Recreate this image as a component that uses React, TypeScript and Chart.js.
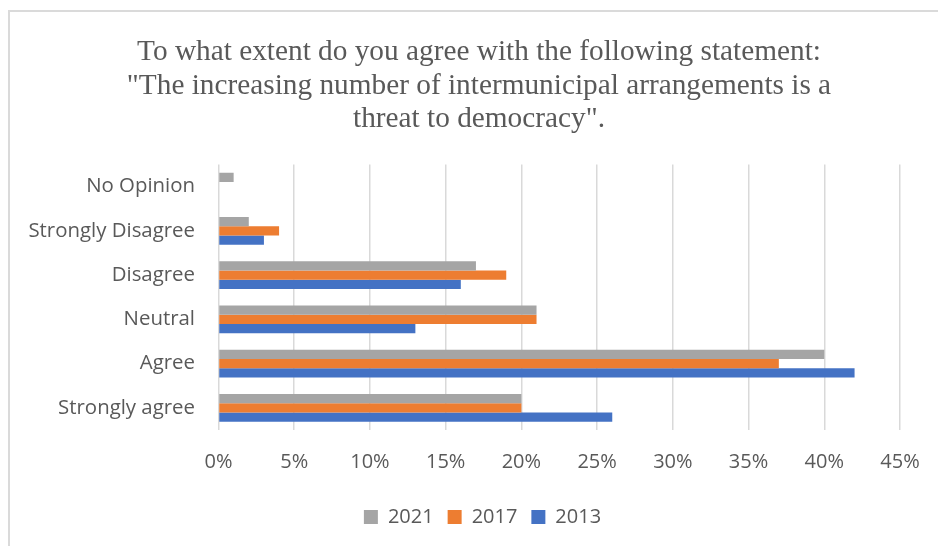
import React, { useEffect, useRef } from 'react';
import { Chart, registerables } from 'chart.js';

Chart.register(...registerables);

const categories = ['No Opinion', 'Strongly Disagree', 'Disagree', 'Neutral', 'Agree', 'Strongly agree'];
const seriesLabels = ['2021', '2017', '2013'];
const values2021 = [1, 2, 17, 21, 40, 20];
const values2017 = [0, 4, 19, 21, 37, 20];
const values2013 = [0, 3, 16, 13, 42, 26];
const seriesColors = ['#A5A5A5', '#ED7D31', '#4472C4'];
const xMin = 0;
const xMax = 45;
const xStep = 5;
const titleLines = [
  'To what extent do you agree with the following statement:',
  '"The increasing number of intermunicipal arrangements is a',
  'threat to democracy".',
];

const TEXT = '#595959';
const LABEL_FONT = { family: "'Open Sans', sans-serif", size: 20 };
const Y_LABEL_FONT = { family: "'Open Sans', sans-serif", size: 20.4 };

const shiftBlocks = {
  id: 'shiftBlocks',
  afterLayout(chart: any) {
    if (chart.titleBlock) {
      chart.titleBlock.left = 58;
      chart.titleBlock.right = 900;
    }
    if (chart.legend) {
      chart.legend.left = 65;
      chart.legend.right = 900;
    }
  },
};

export default function App() {
  const ref = useRef<HTMLCanvasElement | null>(null);

  useEffect(() => {
    if (!ref.current) return;
    const data = [values2021, values2017, values2013];
    const chart = new Chart(ref.current, {
      type: 'bar',
      data: {
        labels: categories,
        datasets: seriesLabels.map((l, i) => ({
          label: l,
          data: data[i],
          backgroundColor: seriesColors[i],
          borderWidth: 0,
          categoryPercentage: 0.63,
          barPercentage: 1,
        })),
      },
      options: {
        indexAxis: 'y',
        responsive: false,
        animation: false,
        layout: { padding: { left: 0, right: 45, top: 0, bottom: 9 } },
        plugins: {
          title: {
            display: true,
            text: titleLines,
            color: TEXT,
            font: { family: "'Liberation Serif', 'Times New Roman', serif", size: 29.3, weight: 'normal', lineHeight: 33.5 / 29.3 },
            padding: { top: 36, bottom: 28 },
          },
          legend: {
            position: 'bottom',
            labels: {
              color: TEXT,
              font: LABEL_FONT,
              boxWidth: 14,
              boxHeight: 14,
              padding: 14,
            },
          },
          tooltip: { enabled: false },
        },
        scales: {
          x: {
            min: xMin,
            max: xMax,
            ticks: {
              stepSize: xStep,
              color: TEXT,
              font: LABEL_FONT,
              padding: 20,
              callback: (v: any) => v + '%',
            },
            grid: { color: '#d9d9d9', lineWidth: 1.5, drawTicks: false },
            border: { display: false },
            afterFit: (s: any) => {
              s.height = 63;
            },
          },
          y: {
            ticks: { color: TEXT, font: Y_LABEL_FONT, padding: 23.5 },
            grid: { display: false, drawTicks: false },
            border: { display: false },
            afterFit: (s: any) => {
              s.width = 218.5;
            },
          },
        },
      },
      plugins: [shiftBlocks],
    });
    return () => chart.destroy();
  }, []);

  return (
    <div style={{ position: 'fixed', left: 0, top: 0, width: 938, height: 546, overflow: 'hidden', background: '#fff' }}>
      <div
        style={{
          position: 'absolute',
          left: 8,
          top: 10,
          width: 2000,
          height: 2000,
          borderLeft: '2px solid #dadada',
          borderTop: '2px solid #dadada',
        }}
      />
      <canvas ref={ref} width={945} height={546} style={{ position: 'absolute', left: 0, top: 0, display: 'block' }} />
    </div>
  );
}
